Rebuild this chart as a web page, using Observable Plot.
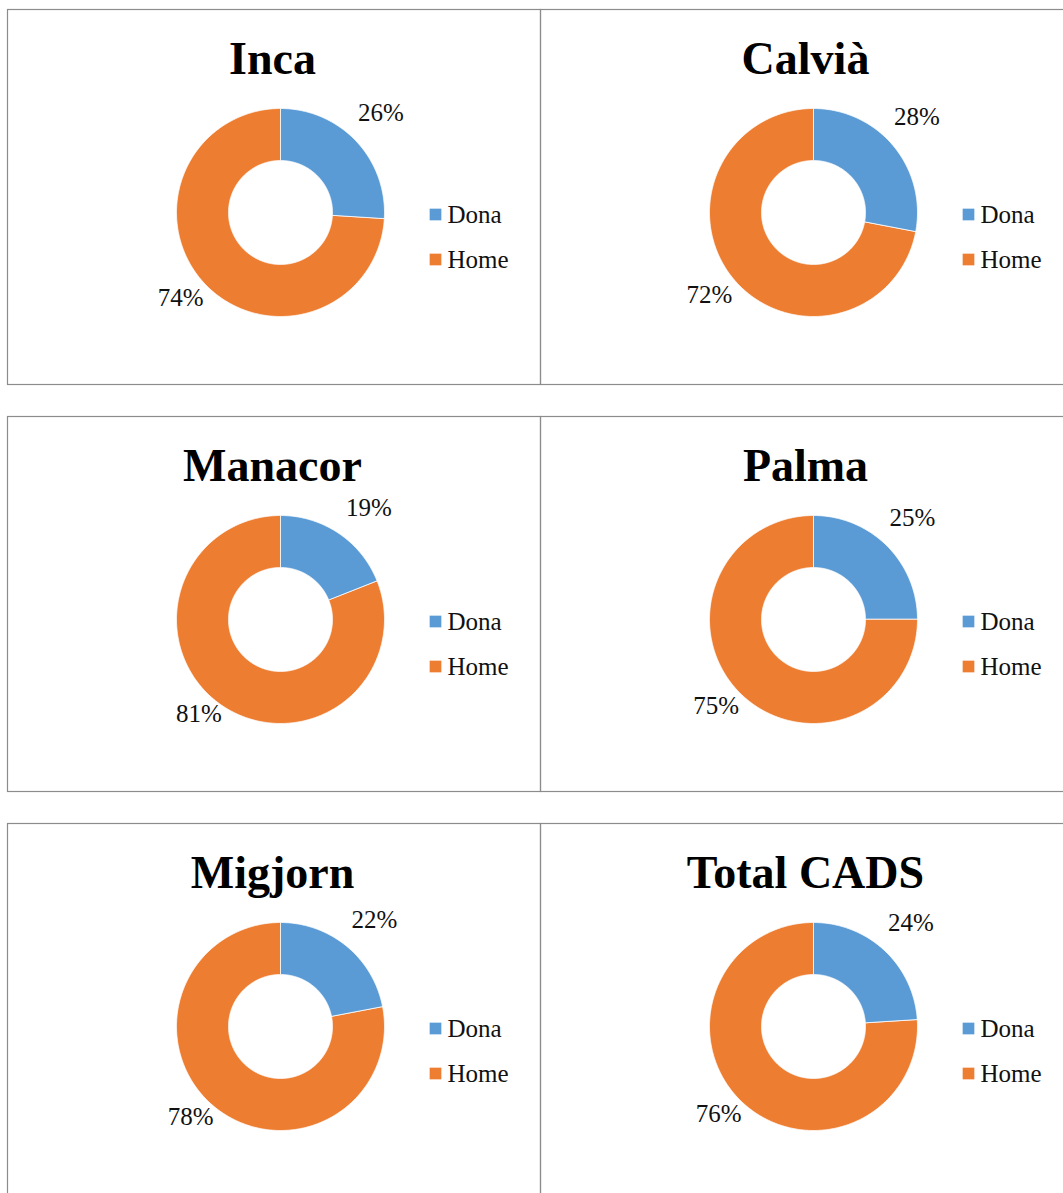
<!DOCTYPE html>
<html>
<head>
<meta charset="utf-8">
<script src="https://cdn.jsdelivr.net/npm/d3@7"></script>
<script src="https://cdn.jsdelivr.net/npm/@observablehq/plot@0.6"></script>
<style>
  html, body { margin: 0; padding: 0; background: #fff; }
  #wrap { width: 1063px; height: 1193px; overflow: hidden; }
  #wrap svg { max-width: none !important; display: block; }
</style>
</head>
<body>
<div id="wrap"></div>
<script>
// ---- data ----
const regions = ["Inca", "Calvià", "Manacor", "Palma", "Migjorn", "Total CADS"];
const dona = [26, 28, 19, 25, 22, 24];
const home = [74, 72, 81, 75, 78, 76];
const categories = ["Dona", "Home"];
const colors = ["#5B9BD5", "#ED7D31"];

// ---- layout (panel pixel units) ----
const PW = 533, PH = 375;         // panel size
const CX = 273, CY = 203;         // donut centre inside panel
const R_OUT = 104, R_IN = 52;
// data-label placement model (Excel "best fit" outside the ring)
const LABEL_POS = {
  Dona: {rx: 72, ox: 48, ry: 84, oy: -42},
  Home: {rx: 108, ox: -21, ry: 63, oy: 42}
};

const panels = regions.map((name, i) => ({
  name, col: i % 2, row: Math.floor(i / 2),
  values: [dona[i], home[i]]
}));

const pie = d3.pie().sort(null).value(d => d.value);
const wedgePts = [];
const labels = [];
const legend = [];
panels.forEach(p => {
  const arcs = pie(categories.map((c, k) => ({cat: c, value: p.values[k]})));
  arcs.forEach(a => {
    const cat = a.data.cat;
    const key = p.name + "|" + cat;
    const n = Math.max(2, Math.ceil((a.endAngle - a.startAngle) / (Math.PI / 360)) + 1);
    for (let j = 0; j < n; j++) {
      const t = a.startAngle + (a.endAngle - a.startAngle) * j / (n - 1);
      wedgePts.push({key, cat, col: p.col, row: p.row,
        x: CX + R_OUT * Math.sin(t), y: CY - R_OUT * Math.cos(t)});
    }
    for (let j = n - 1; j >= 0; j--) {
      const t = a.startAngle + (a.endAngle - a.startAngle) * j / (n - 1);
      wedgePts.push({key, cat, col: p.col, row: p.row,
        x: CX + R_IN * Math.sin(t), y: CY - R_IN * Math.cos(t)});
    }
    const mid = (a.startAngle + a.endAngle) / 2;
    const lp = LABEL_POS[cat];
    labels.push({col: p.col, row: p.row, text: a.data.value + "%",
      x: CX + lp.rx * Math.sin(mid) + lp.ox,
      y: CY - lp.ry * Math.cos(mid) + lp.oy});
  });
  categories.forEach((c, k) => legend.push({col: p.col, row: p.row, cat: c, k}));
});

const chart = Plot.plot({
  width: 7 + 2 * PW,
  height: 9 + 3 * PH + 2 * 32,
  marginLeft: 7, marginTop: 9, marginRight: 0, marginBottom: 0,
  style: {fontFamily: "'Liberation Serif', 'Times New Roman', serif", background: "#fff", color: "#000", maxWidth: "none"},
  x: {domain: [0, PW], axis: null},
  y: {domain: [PH, 0], axis: null},
  fx: {domain: [0, 1], padding: 0, axis: null, round: false},
  fy: {domain: [0, 1, 2], paddingInner: 32 / (PH + 32), paddingOuter: 0, axis: null, round: false},
  color: {domain: categories, range: colors},
  marks: [
    Plot.frame({stroke: "#8c8c8c", strokeWidth: 1.2}),
    Plot.line(wedgePts, {x: "x", y: "y", z: "key", fill: "cat", stroke: "white", strokeWidth: 0.8,
      curve: "linear-closed", fx: "col", fy: "row"}),
    Plot.text(panels, {x: () => 265, y: () => 64, text: "name", fx: "col", fy: "row",
      fontSize: 46, fontWeight: "bold", textAnchor: "middle", lineAnchor: "bottom", fill: "#000"}),
    Plot.text(labels, {x: "x", y: "y", text: "text", fx: "col", fy: "row",
      fontSize: 25, textAnchor: "middle", lineAnchor: "middle", fill: "#111"}),
    Plot.dot(legend, {x: () => 428, y: d => 205 + d.k * 45, fill: "cat", symbol: "square", r: 6.6,
      fx: "col", fy: "row"}),
    Plot.text(legend, {x: () => 440, y: d => 205 + d.k * 45, text: "cat", fx: "col", fy: "row",
      fontSize: 25, textAnchor: "start", lineAnchor: "middle", fill: "#111"})
  ]
});
document.getElementById("wrap").appendChild(chart);
</script>
</body>
</html>
